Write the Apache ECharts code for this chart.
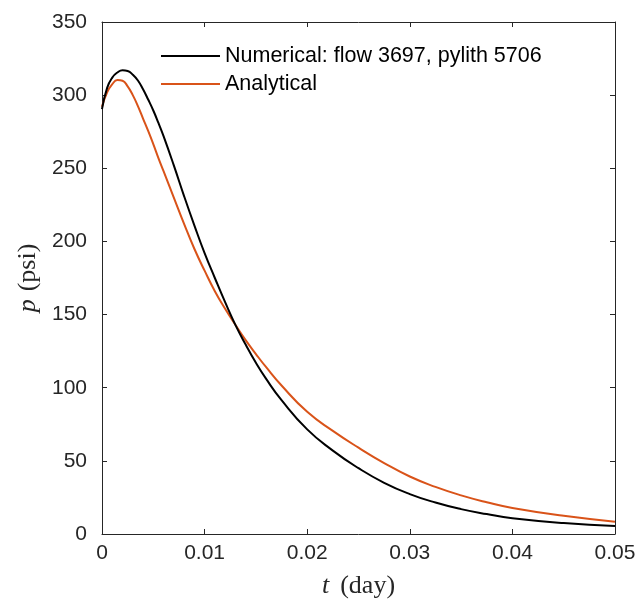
<!DOCTYPE html>
<html>
<head>
<meta charset="utf-8">
<script src="https://cdn.jsdelivr.net/npm/echarts@6/dist/echarts.min.js"></script>
<style>html,body{margin:0;padding:0;background:#fff}#c{width:636px;height:603px}</style>
</head>
<body>
<div id="c"></div>
<script>
const tNum = [0,0.0005,0.001,0.0015,0.002,0.0025,0.003,0.0035,0.004,0.0045,0.005,0.0055,0.006,0.007,0.008,0.009,0.01,0.011,0.012,0.013,0.014,0.015,0.016,0.0175,0.02,0.0225,0.025,0.0275,0.03,0.0325,0.035,0.0375,0.04,0.045,0.05];
const pNum = [290.5,305,312,315.5,317,316.5,314,310,304,297,289.5,281,272,252,231,211,192,175,158.5,143,129.5,117,106,91.5,71.5,57,45,35,27.3,21.5,17,13.6,10.8,7.5,5.5];
const tAna = [0,0.0005,0.001,0.0015,0.002,0.0025,0.003,0.0035,0.004,0.0045,0.005,0.0055,0.006,0.007,0.008,0.009,0.01,0.011,0.012,0.013,0.014,0.015,0.016,0.0175,0.02,0.0225,0.025,0.0275,0.03,0.0325,0.035,0.0375,0.04,0.045,0.05];
const pAna = [292,302,307.5,310.3,309.8,306,300,292.5,284,275.5,266.5,257,248,230,212,195,180,166,154,143,132.5,123,114,101.5,83.5,70.5,59,48.5,39.3,32.2,26.4,21.7,17.8,12.4,8.4];
const xTicks = [0,0.01,0.02,0.03,0.04,0.05];
const yTicks = [0,50,100,150,200,250,300,350];
const seriesNames = ['Numerical: flow 3697, pylith 5706','Analytical'];

const zip = (a,b)=>a.map((v,i)=>[v,b[i]]);
const axisCol = '#262626';
const font = 'Liberation Sans, Arial, Helvetica, sans-serif';
const serif = 'Liberation Serif, Times New Roman, serif';
const chart = echarts.init(document.getElementById('c'));
const baseX = {
  type:'value', min:xTicks[0], max:xTicks[xTicks.length-1], interval:0.01,
  axisLine:{show:true, onZero:false, lineStyle:{color:axisCol, width:1}},
  axisTick:{show:true, inside:true, length:5, lineStyle:{color:axisCol}},
  splitLine:{show:false}
};
const baseY = {
  type:'value', min:yTicks[0], max:yTicks[yTicks.length-1], interval:50,
  axisLine:{show:true, onZero:false, lineStyle:{color:axisCol, width:1}},
  axisTick:{show:true, inside:true, length:5, lineStyle:{color:axisCol}},
  splitLine:{show:false}
};
const titleRich = {
  i:{fontFamily:serif, fontStyle:'italic', fontSize:26, color:axisCol},
  r:{fontFamily:serif, fontSize:26, color:axisCol},
  gx:{width:11},
  gy:{width:8}
};
chart.setOption({
  animation:false,
  backgroundColor:'#fff',
  grid:{left:102, right:21, top:22, bottom:69, containLabel:false, outerBoundsMode:'none'},
  legend:{
    orient:'vertical', left:156, top:40, icon:'rect', itemWidth:59, itemHeight:2, itemGap:6,
    textStyle:{fontFamily:font, fontSize:21.5, color:'#000', lineHeight:21},
    data:seriesNames
  },
  xAxis:[
    Object.assign({}, baseX, {position:'bottom',
      axisLabel:{show:true, fontFamily:font, fontSize:21, color:axisCol, margin:9,
        formatter:v=>String(+v.toFixed(2))},
      name:'{i|t}{gx|}{r|(day)}', nameLocation:'middle', nameGap:39,
      nameTextStyle:{fontFamily:serif, fontSize:26, color:axisCol, rich:titleRich}
    }),
    Object.assign({}, baseX, {position:'top', axisLabel:{show:false}})
  ],
  yAxis:[
    Object.assign({}, baseY, {position:'left',
      axisLabel:{show:true, fontFamily:font, fontSize:21, color:axisCol, margin:15},
      name:'{i|p}{gy|}{r|(psi)}', nameLocation:'middle', nameGap:60,
      nameTextStyle:{fontFamily:serif, fontSize:26, color:axisCol, rich:titleRich}
    }),
    Object.assign({}, baseY, {position:'right', axisLabel:{show:false}})
  ],
  series:[
    {name:seriesNames[0], type:'line', data:zip(tNum,pNum), smooth:true, symbol:'none',
     lineStyle:{color:'#000000', width:2}, itemStyle:{color:'#000000'}, z:3},
    {name:seriesNames[1], type:'line', data:zip(tAna,pAna), smooth:true, symbol:'none',
     lineStyle:{color:'#D95319', width:2}, itemStyle:{color:'#D95319'}, z:2}
  ]
});
</script>
</body>
</html>
